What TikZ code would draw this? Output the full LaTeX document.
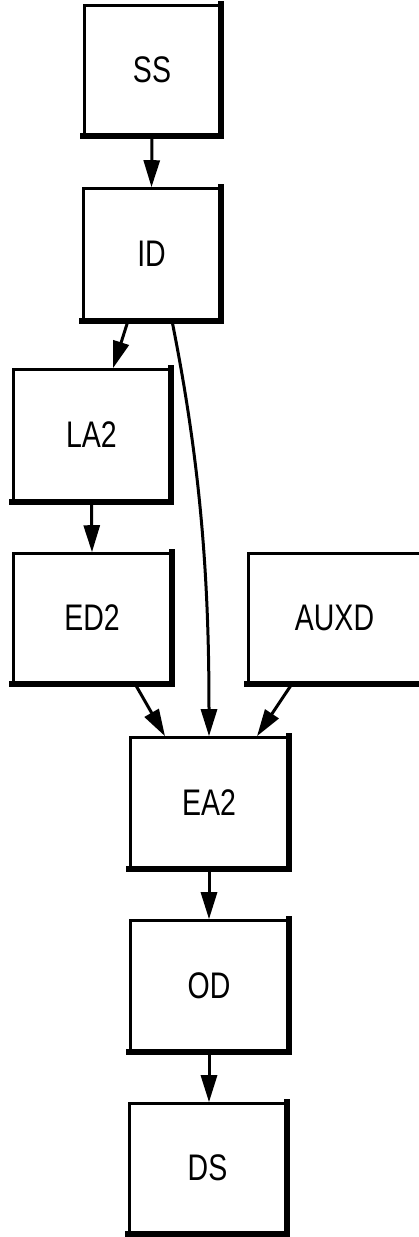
\documentclass[tikz,border=0pt]{standalone}
\usepackage{fontspec}
\setmainfont{Liberation Sans}[FakeStretch=0.77]
\usetikzlibrary{arrows.meta}
\begin{document}
\begin{tikzpicture}[x=1pt,y=-1pt,
  blk/.style={draw, line width=2.6pt, fill=white, inner sep=0pt,
    font=\fontsize{37}{40}\selectfont},
  shade/.style={line width=5.5pt, line cap=rect},
  arr/.style={line width=3pt, -{Triangle[length=27pt,width=16pt]}}]
\clip (0,0) rectangle (419,1237);
\fill[white] (0,0) rectangle (419,1237);
\node[blk, minimum width=135pt, minimum height=129pt] (ss) at (152,70) {SS};
\node[blk, minimum width=136pt, minimum height=131pt] (id) at (151.5,254) {ID};
\node[blk, minimum width=156pt, minimum height=131pt] (la2) at (91.5,435) {LA2};
\node[blk, minimum width=157pt, minimum height=129pt] (ed2) at (92,618) {ED2};
\node[blk, minimum width=172pt, minimum height=129pt] (auxd) at (334.5,618) {AUXD};
\node[blk, minimum width=157pt, minimum height=130pt] (ea2) at (209,802.5) {EA2};
\node[blk, minimum width=157pt, minimum height=130pt] (od) at (209,985.5) {OD};
\node[blk, minimum width=156pt, minimum height=129pt] (ds) at (207.5,1168) {DS};
\foreach \n in {ss,id,la2,ed2,auxd,ea2,od,ds}
  \draw[shade] (\n.north east) -- (\n.south east) -- (\n.south west);
\draw[arr] (ss.south) -- (id.north);
\draw[arr] ([xshift=-23.5pt]id.south) -- ([xshift=21.5pt]la2.north);
\draw[arr] (la2.south) -- (ed2.north);
\draw[arr] ([xshift=20.5pt]id.south) .. controls +(30,150) and +(0,-150) .. (ea2.north);
\draw[arr] ([xshift=43pt]ed2.south) -- ([xshift=-44pt]ea2.north);
\draw[arr] ([xshift=-42.5pt]auxd.south) -- ([xshift=48pt]ea2.north);
\draw[arr] (ea2.south) -- (od.north);
\draw[arr] (od.south) -- (od.south |- ds.north);
\end{tikzpicture}
\end{document}
